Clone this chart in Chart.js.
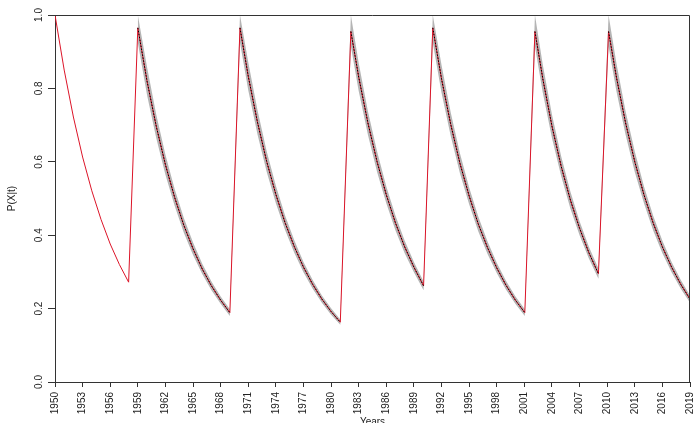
<!DOCTYPE html>
<html>
<head>
<meta charset="utf-8">
<script src="https://cdn.jsdelivr.net/npm/chart.js@4.4.1/dist/chart.umd.min.js"></script>
<style>
  html, body { margin: 0; padding: 0; background: #fff; }
  #wrap { width: 697px; height: 423px; }
</style>
</head>
<body>
<div id="wrap"><canvas id="probChart"></canvas></div>
<script>
// Time points (years)
const years = [
  1950, 1951, 1952, 1953, 1954, 1955, 1956, 1957, 1958,
  1959, 1960, 1961, 1962, 1963, 1964, 1965, 1966, 1967, 1968, 1969,
  1970.1, 1971, 1972, 1973, 1974, 1975, 1976, 1977, 1978, 1979, 1980, 1981,
  1982.15, 1983, 1984, 1985, 1986, 1987, 1988, 1989, 1990.05,
  1991.05, 1992, 1993, 1994, 1995, 1996, 1997, 1998, 1999, 2000, 2001.05,
  2002.15, 2003, 2004, 2005, 2006, 2007, 2008, 2009.05,
  2010.15, 2011, 2012, 2013, 2014, 2015, 2016, 2017, 2018, 2019
];

// Estimated P(X|t) (red line)
const meanP = [
  1.000, 0.850, 0.722, 0.613, 0.521, 0.443, 0.376, 0.320, 0.272,
  0.965, 0.820, 0.697, 0.592, 0.503, 0.427, 0.363, 0.308, 0.262, 0.223, 0.189,
  0.965, 0.833, 0.708, 0.601, 0.511, 0.434, 0.369, 0.313, 0.266, 0.226, 0.192, 0.163,
  0.955, 0.831, 0.706, 0.600, 0.510, 0.433, 0.368, 0.313, 0.262,
  0.965, 0.826, 0.702, 0.596, 0.507, 0.430, 0.366, 0.311, 0.264, 0.224, 0.189,
  0.955, 0.827, 0.697, 0.588, 0.496, 0.419, 0.353, 0.295,
  0.955, 0.831, 0.706, 0.600, 0.510, 0.433, 0.368, 0.313, 0.266, 0.226
];

// Grey band, upper and lower edge (no band before 1959)
const upperP = [
  null, null, null, null, null, null, null, null, null,
  1.000, 0.858, 0.729, 0.619, 0.526, 0.447, 0.380, 0.322, 0.274, 0.233, 0.198,
  1.000, 0.871, 0.741, 0.629, 0.535, 0.454, 0.386, 0.327, 0.278, 0.236, 0.201, 0.170,
  1.000, 0.869, 0.738, 0.628, 0.533, 0.453, 0.385, 0.327, 0.274,
  1.000, 0.864, 0.734, 0.623, 0.530, 0.450, 0.383, 0.325, 0.276, 0.234, 0.198,
  1.000, 0.865, 0.729, 0.615, 0.519, 0.438, 0.369, 0.309,
  1.000, 0.869, 0.738, 0.628, 0.533, 0.453, 0.385, 0.327, 0.278, 0.236
];
const lowerP = [
  null, null, null, null, null, null, null, null, null,
  0.925, 0.782, 0.665, 0.565, 0.480, 0.407, 0.346, 0.294, 0.250, 0.213, 0.180,
  0.925, 0.795, 0.675, 0.573, 0.487, 0.414, 0.352, 0.299, 0.254, 0.216, 0.183, 0.156,
  0.915, 0.793, 0.674, 0.572, 0.487, 0.413, 0.351, 0.299, 0.250,
  0.925, 0.788, 0.670, 0.569, 0.484, 0.410, 0.349, 0.297, 0.252, 0.214, 0.180,
  0.915, 0.789, 0.665, 0.561, 0.473, 0.400, 0.337, 0.281,
  0.915, 0.793, 0.674, 0.572, 0.487, 0.413, 0.351, 0.299, 0.254, 0.216
];

const yTicks = [0, 0.2, 0.4, 0.6, 0.8, 1.0];

const FONT = "'Liberation Sans', Arial, sans-serif";
const INK = '#222';
const CLEAR = 'rgba(0,0,0,0)';

function pts(vals) {
  return years.map((x, i) => ({ x: x, y: vals[i] }));
}
// black dotted line only where the band exists
const dottedP = meanP.map((v, i) => (upperP[i] === null ? null : v));

// hide the dotted line and band on the rising jumps
const rising = c => c.p1.parsed.y > c.p0.parsed.y;

// y tick labels, axis titles and the top/right frame
const extrasPlugin = {
  id: 'extras',
  afterDraw(chart) {
    const { ctx, chartArea } = chart;
    const yScale = chart.scales.y;
    ctx.save();
    ctx.strokeStyle = '#333';
    ctx.lineWidth = 1;
    ctx.beginPath();
    ctx.moveTo(chartArea.left, chartArea.top + 0.5);
    ctx.lineTo(chartArea.right - 0.5, chartArea.top + 0.5);
    ctx.lineTo(chartArea.right - 0.5, chartArea.bottom);
    ctx.stroke();

    ctx.fillStyle = INK;
    ctx.font = '10px ' + FONT;
    ctx.textAlign = 'center';
    ctx.textBaseline = 'alphabetic';
    yTicks.forEach(v => {
      const y = yScale.getPixelForValue(v);
      ctx.save();
      ctx.translate(42, y);
      ctx.rotate(-Math.PI / 2);
      ctx.fillText(v.toFixed(1), 0, 0);
      ctx.restore();
    });

    ctx.save();
    ctx.translate(15, (chartArea.top + chartArea.bottom) / 2);
    ctx.rotate(-Math.PI / 2);
    ctx.fillText('P(X|t)', 0, 0);
    ctx.restore();

    ctx.fillText('Years', (chartArea.left + chartArea.right) / 2, 425);
    ctx.restore();
  }
};

const ctx = document.getElementById('probChart').getContext('2d');
const probChart = new Chart(ctx, {
  type: 'line',
  data: {
    datasets: [
      {
        label: 'dotted',
        data: pts(dottedP),
        borderColor: '#000',
        borderWidth: 1,
        borderDash: [1.5, 1.5],
        pointRadius: 0,
        fill: false,
        segment: { borderColor: c => (rising(c) ? CLEAR : '#000') },
      },
      {
        label: 'mean',
        data: pts(meanP),
        borderColor: 'rgb(220, 20, 40)',
        borderWidth: 1,
        pointRadius: 0,
        fill: false,
      },
      {
        label: 'upper',
        data: pts(upperP),
        borderWidth: 0,
        borderColor: CLEAR,
        pointRadius: 0,
        fill: false,
      },
      {
        label: 'lower',
        data: pts(lowerP),
        borderWidth: 0,
        borderColor: CLEAR,
        backgroundColor: 'rgba(150, 150, 150, 0.7)',
        pointRadius: 0,
        fill: '-1',
      }
    ]
  },
  options: {
    responsive: true,
    maintainAspectRatio: false,
    animation: false,
    layout: { padding: { top: 15, right: 7, left: 0, bottom: 0 } },
    plugins: {
      legend: { display: false },
      tooltip: { enabled: false },
    },
    elements: { line: { tension: 0 } },
    scales: {
      x: {
        type: 'linear',
        min: 1950,
        max: 2019,
        offset: false,
        border: { display: true, color: '#333', width: 1 },
        grid: { drawOnChartArea: false, drawTicks: true, tickLength: 5, color: '#333' },
        ticks: {
          stepSize: 3,
          autoSkip: false,
          minRotation: 90,
          maxRotation: 90,
          padding: 5,
          color: INK,
          font: { family: FONT, size: 10 },
          callback: v => String(v),
        },
        afterFit(scale) {
          scale.height = 41;
          scale.paddingLeft = 0;
          scale.paddingRight = 0;
        },
      },
      y: {
        min: 0,
        max: 1,
        border: { display: true, color: '#333', width: 1 },
        grid: { drawOnChartArea: false, drawTicks: true, tickLength: 7, color: '#333' },
        ticks: { stepSize: 0.2, display: false },
        afterFit(scale) {
          scale.width = 55;
          scale.paddingTop = 0;
          scale.paddingBottom = 0;
        },
      },
    },
  },
  plugins: [extrasPlugin],
});
</script>
</body>
</html>
